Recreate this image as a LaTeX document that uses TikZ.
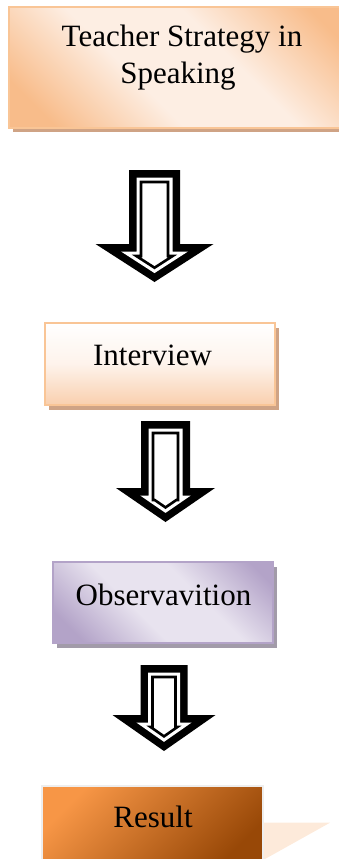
\documentclass[tikz,border=0pt]{standalone}
\usepackage{fontspec}
\setmainfont{Liberation Serif}
\usetikzlibrary{shadows}
\definecolor{peach}{HTML}{F8BC8A}
\definecolor{peachlight}{HTML}{FDEEE3}
\definecolor{peachborder}{HTML}{F9C596}
\definecolor{peachbottom}{HTML}{F9CFAE}
\definecolor{tanshadow}{HTML}{CFA385}
\definecolor{lilac}{HTML}{B3A3C8}
\definecolor{lilaclight}{HTML}{E8E3EF}
\definecolor{lilacshadow}{HTML}{A29BA9}
\definecolor{resorange}{HTML}{F79646}
\definecolor{resbrown}{HTML}{984807}
\definecolor{resborder}{HTML}{EEEEEE}
\definecolor{restri}{HTML}{FDEADA}
\pgfdeclareverticalshading{peachband}{100bp}{color(0bp)=(peach); color(22bp)=(peach); color(42bp)=(peachlight); color(60bp)=(peachlight); color(80bp)=(peach); color(100bp)=(peach)}
\pgfdeclareverticalshading{lilacband}{100bp}{color(0bp)=(lilac); color(22bp)=(lilac); color(42bp)=(lilaclight); color(60bp)=(lilaclight); color(80bp)=(lilac); color(100bp)=(lilac)}
\newcommand\blockarrowpath[8]{%
  \pgfmathsetmacro\barrL{sqrt((#6)^2+((#4)-(#3))^2)}%
  \pgfmathsetmacro\barrHp{((#4)-(#3)-(#7))*(#6)/((#4)-(#3))-(#7)*\barrL/((#4)-(#3))}%
  \pgfmathsetmacro\barrT{(#4)-(#7)*\barrL/(#6)}%
  \path[#8] ({#1-#5+#7},{#2+#7}) -- ({#1+#5-#7},{#2+#7}) -- ({#1+#5-#7},{#3+#7})
    -- ({#1+\barrHp},{#3+#7}) -- (#1,\barrT) -- ({#1-\barrHp},{#3+#7})
    -- ({#1-#5+#7},{#3+#7}) -- cycle;%
}
\newcommand\hollowarrow[6]{%
  \blockarrowpath{#1}{#2}{#3}{#4}{#5}{#6}{0}{fill=black}%
  \blockarrowpath{#1}{#2}{#3}{#4}{#5}{#6}{7.5}{fill=white}%
  \blockarrowpath{#1}{#2}{#3}{#4}{#5}{#6}{12}{fill=white,draw=black,line width=2.6pt}%
}
\begin{document}
\begin{tikzpicture}[x=1pt,y=-1pt,
  lbl/.style={font=\fontsize{31}{36}\selectfont, anchor=base, inner sep=0pt},
  boxbase/.style={rectangle, inner sep=0pt},
  box1/.style={boxbase, draw=peachborder, line width=1.5pt,
    shade, shading=peachband, shading angle=-45,
    drop shadow={shadow xshift=4pt, shadow yshift=-4pt, fill=tanshadow, opacity=1}},
  box2/.style={boxbase, draw=peachborder, line width=2pt,
    top color=white, bottom color=peachbottom, middle color=peachlight!70!white,
    drop shadow={shadow xshift=3.5pt, shadow yshift=-4.5pt, fill=tanshadow, opacity=1}},
  box3/.style={boxbase, draw=lilac, line width=1.5pt,
    shade, shading=lilacband, shading angle=-45,
    drop shadow={shadow xshift=4pt, shadow yshift=-5pt, fill=lilacshadow, opacity=1}},
  box4/.style={boxbase, draw=resborder, line width=2pt,
    top color=resorange, bottom color=resbrown, shading angle=45}
]
\useasboundingbox (0,0) rectangle (339,859);
% box 1
\node[box1, minimum width=334pt, minimum height=121pt] (b1) at (176,67.5) {};
\node[lbl] (t1a) at (182,47) {Teacher Strategy in};
\node[lbl] (t1b) at (178,83) {Speaking};
% arrow 1
\hollowarrow{154.5}{170}{244}{282}{25.5}{59}
% box 2
\node[box2, minimum width=230pt, minimum height=82pt] (b2) at (160,364) {};
\node[lbl] (t2) at (152.5,365) {Interview};
% arrow 2
\hollowarrow{165.5}{421}{488}{522}{24.5}{49.5}
% box 3
\node[box3, minimum width=220pt, minimum height=81pt] (b3) at (163,602.5) {};
\node[lbl] (t3) at (163.5,605) {Observavition};
% arrow 3
\hollowarrow{164}{665}{715}{751}{23.5}{51.5}
% box 4
\fill[restri] (250,822.7) -- (330,822.7) -- (265,859) -- (250,859) -- cycle;
\node[box4, minimum width=221pt, minimum height=80pt] (b4) at (152.5,826) {};
\node[lbl] (t4) at (153,827) {Result};
\end{tikzpicture}
\end{document}
